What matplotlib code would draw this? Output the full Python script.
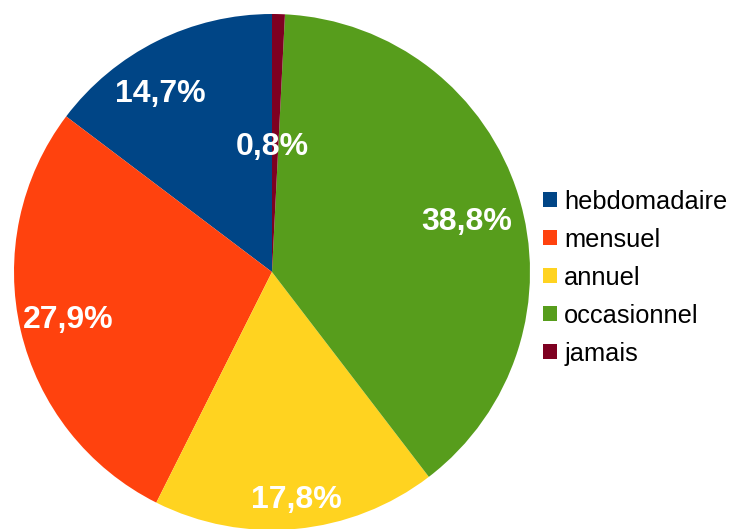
import numpy as np
import matplotlib.pyplot as plt

# data
categories = ['hebdomadaire', 'mensuel', 'annuel', 'occasionnel', 'jamais']
shares = [14.7, 27.9, 17.8, 38.8, 0.8]
pct_labels = ['14,7%', '27,9%', '17,8%', '38,8%', '0,8%']
colors = ['#004586', '#ff420e', '#ffd320', '#579d1c', '#7e0021']

# label placement tweaks (radius fraction, angle shift in degrees)
label_dist = [0.815, 0.81, 0.89, 0.78, 0.485]
label_shift = [5.7, 0.0, 0.6, -2.9, 1.5]

plt.rcParams['font.family'] = ['Liberation Sans', 'DejaVu Sans']

fig = plt.figure(figsize=(7.29, 5.29), dpi=100)
cx, cy, r = 272, 272, 258
W, H = 729, 529
ax = fig.add_axes([(cx - r) / W, (H - cy - r) / H, 2 * r / W, 2 * r / H])

wedges, _ = ax.pie(shares, colors=colors, startangle=90, counterclock=True,
                   radius=1, wedgeprops=dict(linewidth=0))
ax.set_xlim(-1, 1)
ax.set_ylim(-1, 1)
ax.set_aspect('equal')
ax.axis('off')

for w, txt, d, s in zip(wedges, pct_labels, label_dist, label_shift):
    ang = np.deg2rad((w.theta1 + w.theta2) / 2 + s)
    ax.text(d * np.cos(ang), d * np.sin(ang), txt, color='white',
            fontsize=23, fontweight='bold', ha='center', va='center')

fig.legend(wedges, categories, loc='upper left',
           bbox_to_anchor=(530 / W, 1 - 177 / H), frameon=False,
           fontsize=18.3, handlelength=0.55, handleheight=0.55,
           handletextpad=0.3, labelspacing=0.55, borderpad=0)

fig.savefig('out.png', dpi=100)
